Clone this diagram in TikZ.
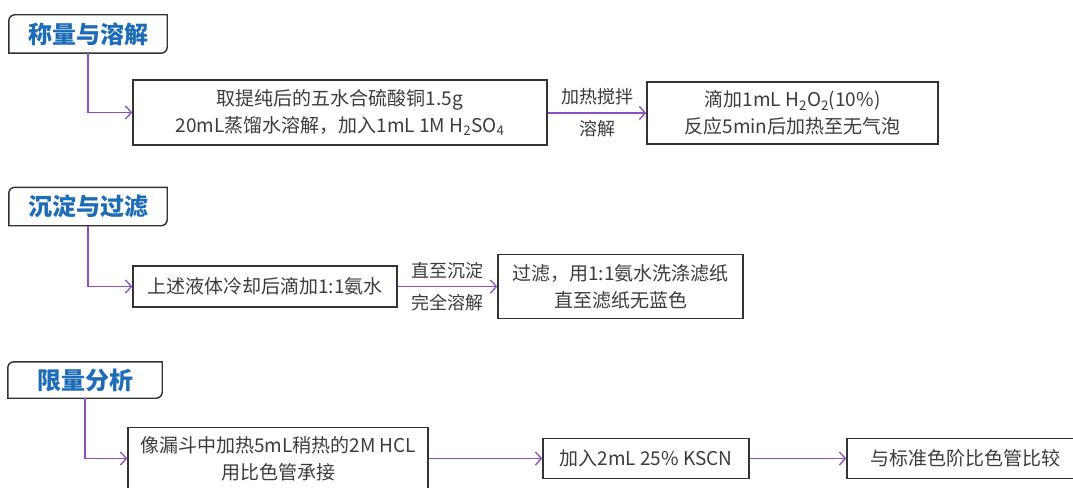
\documentclass[tikz,border=0pt]{standalone}
\usepackage{fontspec}
\setmainfont{Noto Sans CJK SC}
\usetikzlibrary{arrows.meta}
\definecolor{linep}{RGB}{140,80,190}
\definecolor{boxc}{RGB}{51,51,51}
\definecolor{hdrblue}{RGB}{28,108,184}
\definecolor{txt}{RGB}{60,60,60}
\tikzset{
  stepbox/.style={draw=boxc,line width=1.4pt,fill=white,align=center,text=txt,
    font=\fontsize{19}{27}\selectfont,inner sep=0pt},
  hdr/.style={draw=none,text=hdrblue,font=\fontsize{24}{26}\selectfont\bfseries,
    inner sep=0pt,minimum width=158pt,minimum height=38pt},
  conn/.style={draw=linep,line width=1.3pt,-{Straight Barb[length=6pt,width=13pt,line width=1.3pt]}},
  lbl/.style={text=txt,font=\fontsize{18}{20}\selectfont,inner sep=3pt},
  hdrline/.style={draw=boxc,line width=1.4pt}
}
\newcommand{\hdrframe}[1]{%
  \draw[hdrline] (#1.south west) -- ([yshift=-6pt]#1.north west) arc(180:90:6pt)
    -- (#1.north east) -- ([yshift=6pt]#1.south east) arc(0:-90:6pt) -- cycle;}
\begin{document}
\begin{tikzpicture}[x=1pt,y=1pt]
\useasboundingbox (0,0) rectangle (1073,-487);
\clip (0,0) rectangle (1073,-487);
\fill[white] (0,0) rectangle (1073,-487);

% row 1
\node[hdr] (h1) at (88,-34) {称量与溶解};
\hdrframe{h1}
\node[stepbox,minimum width=414pt,minimum height=65pt] (b1) at (340,-112.5)
  {取提纯后的五水合硫酸铜1.5g\\20mL蒸馏水溶解，加入1mL 1M H\textsubscript{2}SO\textsubscript{4}};
\node[stepbox,minimum width=291pt,minimum height=62pt] (b2) at (792.5,-113)
  {滴加1mL H\textsubscript{2}O\textsubscript{2}(10\%)\\反应5min后加热至无气泡};
\draw[conn] (h1.south) |- (b1.west);
\draw[conn] (b1.east |- b2.west) -- node[lbl,above=4pt]{加热搅拌} node[lbl,below=4pt]{溶解} (b2.west);

% row 2
\node[hdr] (h2) at (88,-206.5) {沉淀与过滤};
\hdrframe{h2}
\node[stepbox,minimum width=264pt,minimum height=41pt] (b3) at (265,-286.5)
  {上述液体冷却后滴加1:1氨水};
\node[stepbox,minimum width=245pt,minimum height=64pt] (b4) at (620.5,-286.5)
  {过滤，用1:1氨水洗涤滤纸\\直至滤纸无蓝色};
\draw[conn] (h2.south) |- (b3.west);
\draw[conn] (b3.east) -- node[lbl,above=4pt]{直至沉淀} node[lbl,below=4pt]{完全溶解} (b4.west);

% row 3
\node[hdr,minimum width=154pt,minimum height=36pt] (h3) at (85,-380) {限量分析};
\hdrframe{h3}
\node[stepbox,minimum width=300pt,minimum height=62pt] (b5) at (278,-458.5)
  {像漏斗中加热5mL稍热的2M HCL\\用比色管承接};
\node[stepbox,minimum width=206pt,minimum height=40pt] (b6) at (646,-458.5)
  {加入2mL 25\% KSCN};
\node[stepbox,minimum width=237pt,minimum height=40pt] (b7) at (965.5,-458.5)
  {与标准色阶比色管比较};
\draw[conn] (h3.south) |- (b5.west);
\draw[conn] (b5.east) -- (b6.west);
\draw[conn] (b6.east) -- (b7.west);
\end{tikzpicture}
\end{document}
